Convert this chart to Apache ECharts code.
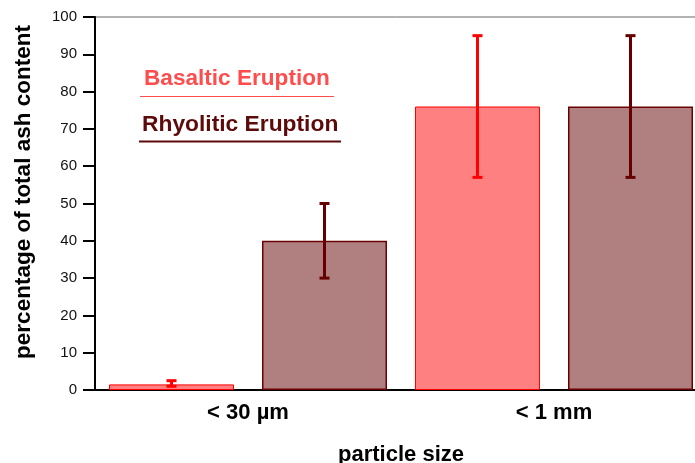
<!DOCTYPE html>
<html><head><meta charset="utf-8">
<script src="https://cdn.jsdelivr.net/npm/echarts@6/dist/echarts.min.js"></script>
<style>html,body{margin:0;padding:0;background:#fff}#c{width:695px;height:463px}</style>
</head><body><div id="c"></div>
<script>
const categories = ['< 30 µm', '< 1 mm'];
const seriesNames = ['Basaltic Eruption', 'Rhyolitic Eruption'];
const basaltic = [1.5, 76];
const basalticLow = [1, 57];
const basalticHigh = [2.5, 95];
const rhyolitic = [40, 76];
const rhyoliticLow = [30, 57];
const rhyoliticHigh = [50, 95];
const yTicks = [0, 100, 10];

const chart = echarts.init(document.getElementById('c'));
const BAR_W = 125, GAP = 28;
const FONT = '"Liberation Sans", Arial, sans-serif';
function errSeries(name, low, high, color, side) {
  return {
    type: 'custom', name: name + ' err', z: 10,
    data: categories.map((c, i) => [i, low[i], high[i]]),
    renderItem: function (params, api) {
      const off = side * (BAR_W + GAP) / 2;
      const lo = api.coord([api.value(0), api.value(1)]);
      const hi = api.coord([api.value(0), api.value(2)]);
      const x = lo[0] + off, cw = 5;
      const st = { stroke: color, lineWidth: 3 };
      return { type: 'group', children: [
        { type: 'line', shape: { x1: x, y1: lo[1], x2: x, y2: hi[1] }, style: st },
        { type: 'line', shape: { x1: x - cw, y1: lo[1], x2: x + cw, y2: lo[1] }, style: st },
        { type: 'line', shape: { x1: x - cw, y1: hi[1], x2: x + cw, y2: hi[1] }, style: st }
      ]};
    }
  };
}
chart.setOption({
  animation: false,
  grid: { left: 95, top: 17, right: -12, bottom: 73, containLabel: false, outerBoundsMode: 'none',
          show: true, borderColor: '#666', borderWidth: 1 },
  xAxis: {
    type: 'category', data: categories,
    name: 'particle size', nameLocation: 'middle', nameGap: 54,
    nameTextStyle: { fontFamily: FONT, fontWeight: 'bold', fontSize: 22, color: '#000' },
    axisLine: { lineStyle: { color: '#000', width: 2 } },
    axisTick: { length: 12, lineStyle: { color: '#000', width: 2 } },
    axisLabel: { margin: 12, fontFamily: FONT, fontWeight: 'bold', fontSize: 22, color: '#000' }
  },
  yAxis: {
    type: 'value', min: yTicks[0], max: yTicks[1], interval: yTicks[2],
    axisLine: { show: true, lineStyle: { color: '#000', width: 2 } },
    axisTick: { show: true, length: 12, lineStyle: { color: '#000', width: 2 } },
    axisLabel: { margin: 18, fontFamily: FONT, fontSize: 15, color: '#111' },
    splitLine: { show: false }
  },
  series: [
    { type: 'bar', name: seriesNames[0], data: basaltic, barWidth: BAR_W, barGap: (GAP / BAR_W * 100) + '%',
      itemStyle: { color: '#ff8080', borderColor: '#ff0000', borderWidth: 1 } },
    { type: 'bar', name: seriesNames[1], data: rhyolitic, barWidth: BAR_W,
      itemStyle: { color: '#b08080', borderColor: '#6b0000', borderWidth: 1.5 } },
    errSeries(seriesNames[0], basalticLow, basalticHigh, '#ff0000', -1),
    errSeries(seriesNames[1], rhyoliticLow, rhyoliticHigh, '#660000', 1)
  ],
  graphic: [
    { type: 'text', x: 24, y: 192, rotation: Math.PI / 2,
      style: { text: 'percentage of total ash content', fill: '#000', font: 'bold 22.5px ' + FONT, align: 'center', verticalAlign: 'middle' } },
    { type: 'text', x: 144, y: 79, style: { text: seriesNames[0], fill: '#ff4d4d', font: 'bold 22.6px ' + FONT, verticalAlign: 'middle' } },
    { type: 'line', shape: { x1: 140, y1: 96.5, x2: 334, y2: 96.5 }, style: { stroke: '#ff4d4d', lineWidth: 1 } },
    { type: 'text', x: 142, y: 125, style: { text: seriesNames[1], fill: '#5c0a0a', font: 'bold 22.8px ' + FONT, verticalAlign: 'middle' } },
    { type: 'line', shape: { x1: 139, y1: 141.5, x2: 341, y2: 141.5 }, style: { stroke: '#5c0a0a', lineWidth: 2 } }
  ]
});
</script></body></html>
